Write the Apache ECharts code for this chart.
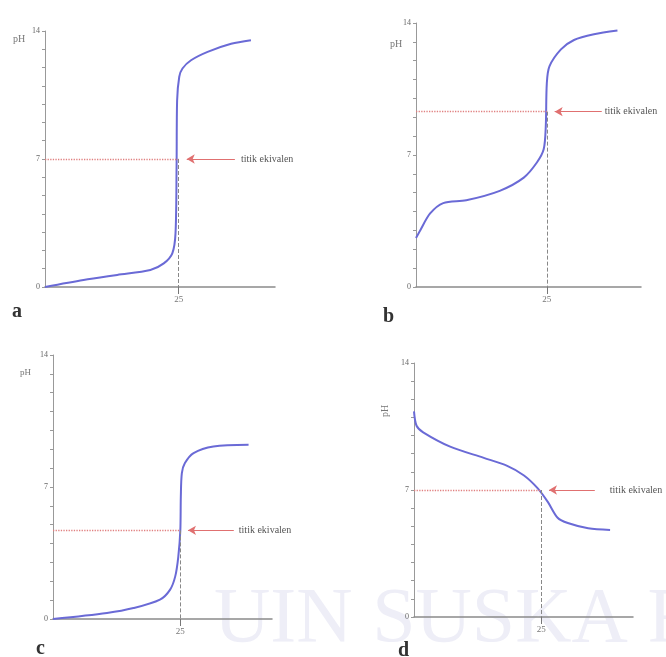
<!DOCTYPE html>
<html>
<head>
<meta charset="utf-8">
<script src="https://cdn.jsdelivr.net/npm/echarts@6/dist/echarts.min.js"></script>
<style>
  html, body { margin: 0; padding: 0; background: #fff; }
  #chart { width: 666px; height: 657px; }
</style>
</head>
<body>
<div id="chart"></div>
<script>
// titration curves: volume of titrant vs pH, four panels a-d
const volA = [0, 7.2, 13.5, 19.7, 22.2, 23.8, 24.4, 24.6, 24.7, 25.1, 25.7, 27.3, 30.4, 34.8, 38.5];
const phA  = [0, 0.38, 0.66, 0.93, 1.29, 1.84, 2.93, 6.57, 10.2, 11.5, 11.95, 12.4, 12.86, 13.3, 13.5];

const volB = [0, 0.8, 2.7, 5.2, 9.6, 16, 20.6, 23.1, 24.4, 24.8, 25, 25.5, 27.7, 30.2, 34, 38.5];
const phB  = [2.6, 3.0, 3.9, 4.45, 4.6, 5.1, 5.8, 6.6, 7.3, 8.5, 10.8, 11.7, 12.6, 13.1, 13.4, 13.6];

const volC = [0, 10.6, 15.8, 21, 23, 24, 24.6, 25, 25.1, 25.3, 25.9, 27.6, 31.5, 38.4];
const phC  = [0, 0.32, 0.58, 1.03, 1.56, 2.26, 3.3, 4.7, 6.5, 7.74, 8.27, 8.8, 9.15, 9.24];

const volD = [0, 0.5, 1.8, 7.1, 13.7, 18.3, 21.6, 24.3, 26.3, 28.2, 30.2, 34.2, 38.5];
const phD  = [11.33, 10.54, 10.18, 9.39, 8.77, 8.33, 7.8, 7.09, 6.33, 5.47, 5.18, 4.89, 4.8];

const eqVolume = 25;
const eqPh = [7, 9.3, 4.7, 7];
const yTickLabels = [0, 7, 14];
const xTickLabels = [25];
const panelLetters = ['a', 'b', 'c', 'd'];
const eqText = 'titik ekivalen';

const curves = [[volA, phA], [volB, phB], [volC, phC], [volD, phD]];

// panel boxes in px (left, top, width, height)
const boxes = [
  [45, 31, 230, 256],
  [416, 23, 225, 264],
  [53, 355, 219, 264],
  [414, 363, 219, 254]
];
// gap between arrow tail and its text
const textGap = [6, 3, 5, 15];

const serif = 'Liberation Serif';

const grids = boxes.map(b => ({ left: b[0], top: b[1], width: b[2], height: b[3] }));

const xAxes = boxes.map((b, i) => ({
  type: 'value', gridIndex: i, min: 0, max: 43,
  axisLine: { show: true, lineStyle: { color: '#8a8a8a', width: 1.5 } },
  axisTick: { show: true, customValues: xTickLabels, length: 7, lineStyle: { color: '#777' } },
  axisLabel: { customValues: xTickLabels, fontSize: 9, color: '#777', fontFamily: serif, margin: 8 },
  splitLine: { show: false }
}));

const yAxes = boxes.map((b, i) => ({
  type: 'value', gridIndex: i, min: 0, max: 14, interval: 1,
  axisLine: { show: true, lineStyle: { color: '#999', width: 1 } },
  axisTick: { show: true, length: 3, lineStyle: { color: '#999' } },
  axisLabel: {
    fontSize: 8, color: '#666', fontFamily: serif, margin: 5,
    formatter: v => (yTickLabels.includes(v) ? String(v) : '')
  },
  splitLine: { show: false }
}));

const series = curves.map((c, i) => {
  const eq = eqPh[i];
  return {
    type: 'line', xAxisIndex: i, yAxisIndex: i,
    data: c[0].map((v, k) => [v, c[1][k]]),
    showSymbol: false, smooth: 0.3, clip: false,
    lineStyle: { color: '#6a6ad6', width: 2 },
    z: 3,
    markLine: {
      silent: true, animation: false, symbol: 'none',
      label: { show: false },
      data: [
        [{ coord: [0, eq], lineStyle: { type: 'dotted', color: '#e08080', width: 1.3 } },
         { coord: [eqVolume, eq] }],
        [{ coord: [eqVolume, eq], lineStyle: { type: 'dashed', color: '#888', width: 1 } },
         { coord: [eqVolume, 0] }],
        [{ coord: [35.5, eq], symbol: 'none',
           lineStyle: { type: 'solid', color: '#e07070', width: 1.2 },
           label: { show: true, position: 'start', formatter: eqText, fontSize: 10,
                    color: '#555', fontFamily: serif, distance: textGap[i] } },
         { coord: [26.5, eq], symbol: 'arrow', symbolSize: [7, 8] }]
      ]
    }
  };
});

const graphics = [
  // watermark text
  { type: 'text', left: 214, top: 582, z: -10, silent: true,
    style: { text: 'UIN SUSKA RIAU', fontSize: 78, fontFamily: serif, fill: '#eeeef7' } },
  // pH labels
  { type: 'text', left: 13, top: 34, style: { text: 'pH', fontSize: 10, fill: '#777', fontFamily: serif } },
  { type: 'text', left: 390, top: 39, style: { text: 'pH', fontSize: 10, fill: '#777', fontFamily: serif } },
  { type: 'text', left: 20, top: 368, style: { text: 'pH', fontSize: 9, fill: '#777', fontFamily: serif } },
  { type: 'text', x: 380, y: 417, rotation: Math.PI / 2,
    style: { text: 'pH', fontSize: 10, fill: '#777', fontFamily: serif } }
];

const letterPos = [[12, 302], [383, 307], [36, 639], [398, 641]];
panelLetters.forEach((t, i) => {
  graphics.push({ type: 'text', left: letterPos[i][0], top: letterPos[i][1],
    style: { text: t, fontSize: 20, fontWeight: 'bold', fill: '#333', fontFamily: serif } });
});

const chart = echarts.init(document.getElementById('chart'));
chart.setOption({
  backgroundColor: '#fff',
  animation: false,
  grid: grids,
  xAxis: xAxes,
  yAxis: yAxes,
  series: series,
  graphic: graphics
});
</script>
</body>
</html>
